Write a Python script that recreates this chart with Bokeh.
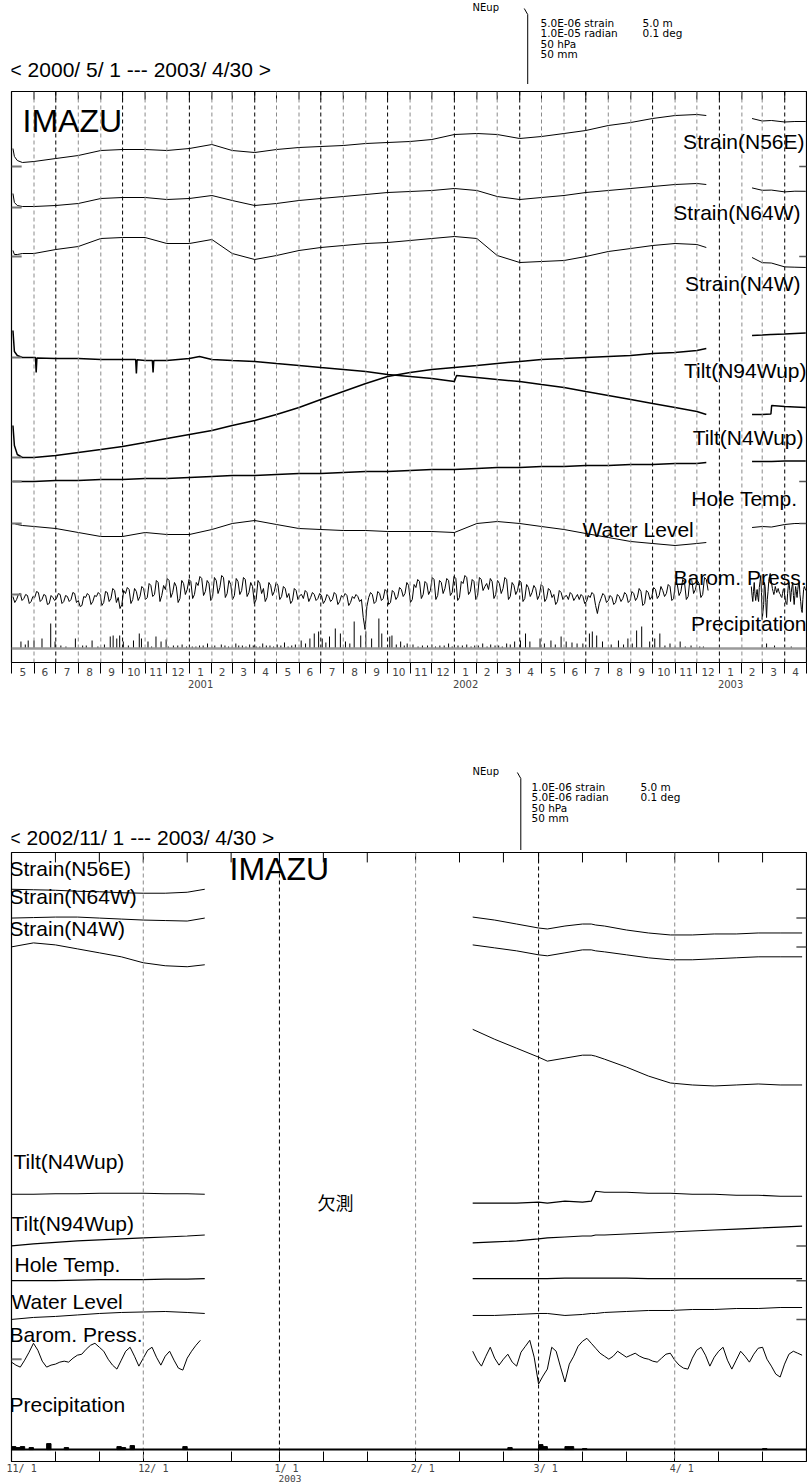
import pandas as pd
from bokeh.plotting import figure
from bokeh.layouts import column
from bokeh.models import Range1d, LinearAxis, FixedTicker, Span, Label
from bokeh.embed import file_html
from bokeh.resources import INLINE

# ============================ DATA ============================
# ---------- upper panel : 2000/5/1 - 2003/4/30 ----------
top_months = [d.strftime("%Y-%m-%d") for d in pd.date_range("2000-06-01", "2002-12-01", freq="MS")]
top_dates_a = ["2000-05-03", "2000-05-05", "2000-05-09", "2000-05-16"] + top_months + ["2002-12-14"]
top_dates_b = ["2003-02-15", "2003-03-01", "2003-03-13", "2003-03-14", "2003-04-01", "2003-04-15", "2003-04-30"]

# strain in 1e-6, tilt in 1e-6 rad, temperature in deg C, water level in m
strain_n56e_a = [1.8, 1.0, 0.6, 0.4, 0.5, 0.8, 1.1, 1.6, 1.7, 1.7, 1.6, 1.8, 2.2, 1.6, 1.4, 1.7, 1.9, 2.0,
                 2.1, 2.3, 2.4, 2.5, 2.7, 3.2, 3.3, 3.2, 2.8, 3.0, 3.3, 3.6, 4.1, 4.4, 4.8, 5.1, 5.2, 5.1]
strain_n56e_b = [4.8, 4.55, 4.6, 4.6, 4.45, 4.5, 4.5]
strain_n64w_a = [1.4, 0.5, 0.2, 0.1, 0.1, 0.2, 0.4, 0.9, 1.0, 1.0, 0.8, 0.9, 1.2, 0.7, 0.2, 0.4, 0.7, 0.9,
                 1.1, 1.3, 1.5, 1.6, 1.7, 1.9, 1.7, 1.1, 0.8, 1.0, 1.2, 1.5, 1.7, 1.9, 2.1, 2.3, 2.4, 2.3]
strain_n64w_b = [1.96, 1.72, 1.74, 1.74, 1.56, 1.63, 1.62]
strain_n4w_a = [0.6, 0.2, 0.2, 0.3, 0.3, 0.7, 1.0, 1.8, 1.9, 1.9, 1.3, 1.3, 1.7, 0.3, -0.3, 0.1, 0.6, 0.9,
                1.1, 1.3, 1.4, 1.6, 1.8, 2.0, 1.8, 0.1, -0.6, -0.5, -0.4, 0.0, 0.5, 0.8, 1.1, 1.3, 1.2, 0.9]
strain_n4w_b = [-0.1, -0.62, -0.65, -0.66, -1.04, -1.07, -1.1]
tilt_n4wup_a = [5.4, 1.2, 0.4, 0.0, 0.0, -0.2, -0.2, -0.4, -0.4, -0.6, -0.6, -0.2, -0.4, -0.6, -0.8, -1.2,
                -1.6, -2.0, -2.4, -2.8, -3.4, -3.8, -4.2, -4.8, -4.0, -4.4, -4.8, -5.4, -6.0, -6.8, -7.6,
                -8.4, -9.2, -10.0, -10.8, -11.4]
tilt_n4wup_extra_dates = ["2000-06-03", "2000-06-04", "2000-06-05", "2000-10-19", "2000-10-20", "2000-10-21",
                          "2000-11-11", "2000-11-12", "2000-11-13", "2001-01-15", "2002-01-04"]
tilt_n4wup_extra = [0.0, -3.0, -0.1, -0.4, -3.2, -0.45, -0.6, -3.0, -0.6, 0.2, -3.6]
tilt_n4wup_b = [-11.4, -11.4, -11.3, -9.6, -9.8, -9.9, -10.0]
tilt_n94wup_a = [6.4, 2.4, 0.6, 0.0, 0.0, 0.4, 1.0, 1.6, 2.2, 3.0, 3.8, 4.6, 5.4, 6.4, 7.4, 8.6, 10.0, 11.6,
                 13.2, 14.8, 16.2, 17.0, 17.6, 18.0, 18.4, 18.8, 19.2, 19.6, 19.8, 20.0, 20.2, 20.4, 20.8,
                 21.0, 21.4, 21.8]
tilt_n94wup_b = [24.4, 24.5, 24.6, 24.6, 24.7, 24.8, 24.9]
hole_temp_a = [0, 0, 0, 0, 0, 0.002, 0.002, 0.004, 0.004, 0.006, 0.006, 0.008, 0.010, 0.012, 0.012, 0.014,
               0.016, 0.016, 0.018, 0.020, 0.020, 0.022, 0.024, 0.024, 0.026, 0.028, 0.028, 0.030, 0.030,
               0.032, 0.032, 0.034, 0.034, 0.036, 0.036, 0.038]
hole_temp_b = [0.040, 0.040, 0.040, 0.040, 0.041, 0.041, 0.041]
water_level_a = [0, 0, -0.1, -0.2, -0.3, -0.5, -0.9, -1.3, -1.3, -0.9, -1.1, -1.1, -0.6, 0.0, 0.3, -0.1, -0.5,
                 -0.6, -0.7, -0.7, -0.8, -0.8, -0.8, -0.9, 0.0, 0.2, 0.0, -0.3, -0.6, -1.0, -1.4, -1.8, -2.0,
                 -2.2, -2.0, -1.9]
water_level_b = [-0.4, -0.3, -0.35, -0.35, -0.1, 0.0, 0.0]

# barometric pressure (hPa): readings every 5 days from 2000/5/3 and the readings 2.5 days later
baro_top_start = "2000-05-03"
baro_top_a = [
    1011, 1008, 1014, 1009, 1012, 1006, 1010, 1015, 1008, 1012, 1004, 1010,
    1009, 1013, 1006, 1011, 1008, 1014, 1007, 1002, 1010, 1012, 1006, 1011,
    1013, 1005, 1015, 1009, 1017, 1010, 1003, 1014, 1018, 1008, 1016, 1011,
    1019, 1010, 1022, 1013, 1025, 1012, 1018, 1027, 1015, 1021, 1009, 1024,
    1018, 1026, 1013, 1022, 1029, 1016, 1024, 1011, 1027, 1020, 1030, 1014,
    1023, 1012, 1026, 1017, 1028, 1015, 1021, 1008, 1024, 1019, 1010, 1022,
    1016, 1022, 1011, 1019, 1014, 1007, 1017, 1012, 1009, 1015, 1010, 1013,
    1009, 1012, 1007, 1011, 1008, 1013, 1006, 1010, 1012, 1005, 1009, 1011,
    1008, 978, 1010, 1013, 1006, 1014, 1009, 1016, 1005, 1015, 1011, 1018,
    1014, 1022, 1008, 1020, 1026, 1013, 1024, 1017, 1028, 1012, 1025, 1019,
    1027, 1015, 1029, 1010, 1024, 1030, 1016, 1026, 1012, 1028, 1021, 1018,
    1026, 1013, 1024, 1019, 1028, 1011, 1022, 1017, 1025, 1009, 1020, 1015,
    1019, 1012, 1021, 1009, 1017, 1013, 1006, 1015, 1011, 1008, 1013, 1010,
    1008, 1011, 1006, 1010, 1013, 994, 1009, 1012, 1007, 1010, 1005, 1011,
    1009, 1013, 1007, 1014, 1010, 1016, 1004, 1015, 1011, 1018, 1012, 1017,
    1014, 1021, 1009, 1023, 1016, 1025, 1011, 1027, 1018, 1024, 1013, 1028]
baro_top_mid = [
    1005, 1013, 1007, 1013, 1004, 1011, 1016, 1006, 1013, 1003, 1012, 1007,
    1014, 1004, 1012, 1006, 1015, 1005, 1001, 1011, 1014, 1003, 1012, 1015,
    1002, 1016, 1006, 1019, 1005, 999, 1017, 1020, 1004, 1019, 1007, 1021,
    1008, 1024, 1011, 1027, 1006, 1022, 1029, 1010, 1025, 1005, 1027, 1013,
    1028, 1009, 1025, 1031, 1012, 1027, 1007, 1030, 1014, 1032, 1010, 1027,
    1008, 1029, 1013, 1030, 1011, 1025, 1004, 1027, 1014, 1006, 1025, 1012,
    1025, 1008, 1021, 1010, 1004, 1019, 1008, 1013, 1017, 1006, 1015, 1007,
    1014, 1004, 1013, 1006, 1015, 1003, 1012, 1014, 1002, 1011, 1013, 1006,
    990, 1001, 1015, 1004, 1016, 1007, 1018, 1003, 1017, 1008, 1020, 1011,
    1025, 1005, 1023, 1028, 1009, 1026, 1013, 1030, 1008, 1027, 1014, 1029,
    1012, 1031, 1007, 1026, 1032, 1013, 1028, 1008, 1030, 1017, 1024, 1029,
    1009, 1027, 1014, 1030, 1008, 1025, 1013, 1027, 1006, 1023, 1011, 1022,
    1008, 1023, 1006, 1019, 1010, 1003, 1017, 1008, 1012, 1015, 1007, 1013,
    1013, 1004, 1012, 1015, 1002, 1004, 1014, 1005, 1012, 1003, 1013, 1006,
    1015, 1005, 1016, 1007, 1019, 1002, 1017, 1008, 1020, 1009, 1021, 1011,
    1023, 1007, 1025, 1012, 1028, 1008, 1029, 1014, 1027, 1010, 1030, 1017]

# precipitation (mm/day)
top_precip_dates = [
    "2000-05-14", "2000-05-20", "2000-05-24", "2000-06-01", "2000-06-12", "2000-06-24", "2000-06-30", "2000-07-08", "2000-07-28", "2000-08-07",
    "2000-08-20", "2000-09-06", "2000-09-14", "2000-09-18", "2000-09-23", "2000-09-27", "2000-10-02", "2000-10-16", "2000-10-24", "2000-10-27",
    "2000-11-05", "2000-11-16", "2000-11-23", "2000-11-30", "2000-12-10", "2000-12-22", "2001-01-05", "2001-01-15", "2001-01-26", "2001-02-05",
    "2001-02-14", "2001-02-24", "2001-03-06", "2001-03-15", "2001-03-25", "2001-04-03", "2001-04-12", "2001-04-22", "2001-05-02", "2001-05-12",
    "2001-05-22", "2001-06-04", "2001-06-16", "2001-06-22", "2001-06-28", "2001-07-03", "2001-07-13", "2001-07-21", "2001-07-28", "2001-08-04",
    "2001-08-16", "2001-08-25", "2001-09-01", "2001-09-09", "2001-09-19", "2001-09-23", "2001-10-04", "2001-10-07", "2001-10-19", "2001-10-28",
    "2001-11-05", "2001-11-18", "2001-12-01", "2001-12-12", "2001-12-24", "2002-01-06", "2002-01-18", "2002-01-29", "2002-02-09", "2002-02-20",
    "2002-03-03", "2002-03-14", "2002-03-25", "2002-04-02", "2002-04-09", "2002-04-15", "2002-04-29", "2002-05-14", "2002-05-28", "2002-06-04",
    "2002-06-19", "2002-07-06", "2002-07-10", "2002-07-16", "2002-07-24", "2002-08-05", "2002-08-15", "2002-08-28", "2002-09-09", "2002-09-16",
    "2002-09-27", "2002-10-04", "2002-10-11", "2002-10-25", "2002-11-08", "2002-11-23", "2002-12-05", "2003-03-01", "2003-03-07", "2003-03-18",
    "2003-04-10"]
top_precip_mm = [
    7, 4, 8, 8, 10, 25, 7, 3, 10, 3,
    8, 4, 12, 13, 10, 13, 7, 8, 15, 10,
    7, 12, 7, 9, 3, 4, 2, 3, 5, 3,
    4, 2, 5, 3, 4, 2, 5, 3, 4, 6,
    3, 8, 10, 15, 17, 10, 12, 20, 15, 7,
    27, 13, 17, 10, 30, 15, 12, 13, 7, 5,
    4, 3, 4, 3, 5, 3, 4, 3, 5, 4,
    3, 5, 7, 8, 15, 7, 10, 8, 12, 7,
    5, 15, 17, 13, 7, 4, 8, 10, 18, 22,
    7, 10, 15, 5, 7, 3, 2, 4, 5, 3,
    2]
top_precip_small_dates = [
    "2000-07-15", "2000-08-12", "2000-08-28", "2000-10-09", "2000-11-10", "2000-12-03", "2000-12-16",
    "2000-12-28", "2001-01-10", "2001-01-20", "2001-02-01", "2001-02-19", "2001-03-01", "2001-03-10",
    "2001-03-20", "2001-03-30", "2001-04-08", "2001-04-17", "2001-04-27", "2001-05-07", "2001-05-17",
    "2001-05-27", "2001-06-10", "2001-07-08", "2001-08-10", "2001-10-13", "2001-10-24", "2001-11-12",
    "2001-11-25", "2001-12-06", "2001-12-18", "2001-12-29", "2002-01-12", "2002-01-24", "2002-02-03",
    "2002-02-15", "2002-02-26", "2002-03-08", "2002-03-19", "2002-05-05", "2002-05-20", "2002-06-12",
    "2002-06-27", "2002-08-22", "2002-09-03", "2002-10-18", "2002-11-01", "2002-11-15", "2002-12-10"]
top_precip_small_mm = [2, 3, 2, 3, 2, 2, 3, 2, 2, 3, 2, 3, 2, 3, 2, 3, 2, 3, 2, 3, 2, 4, 5, 6, 5, 4, 3, 2,
                       3, 2, 3, 2, 3, 2, 3, 2, 3, 2, 4, 5, 4, 6, 5, 4, 5, 3, 2, 2, 2]

top_month_labels = ["5", "6", "7", "8", "9", "10", "11", "12", "1", "2", "3", "4"] * 3
top_year_labels = ["2001", "2002", "2003"]

# ---------- lower panel : 2002/11/1 - 2003/4/30 ----------
bot_dates_1 = ["2002-11-01", "2002-11-06", "2002-11-11", "2002-11-16", "2002-11-21", "2002-11-26",
               "2002-12-01", "2002-12-06", "2002-12-11", "2002-12-15"]
bot_dates_2 = ["2003-02-14", "2003-02-19", "2003-02-24", "2003-03-01", "2003-03-03", "2003-03-07",
               "2003-03-11", "2003-03-13", "2003-03-14", "2003-03-16", "2003-03-21", "2003-03-26",
               "2003-03-31", "2003-04-05", "2003-04-10", "2003-04-15", "2003-04-20", "2003-04-25", "2003-04-30"]
b_n56e_1 = [0.0, -0.01, -0.02, -0.04, -0.05, -0.07, -0.08, -0.08, -0.06, 0.0]
b_n56e_2 = [-0.56, -0.62, -0.70, -0.78, -0.80, -0.74, -0.70, -0.70, -0.72, -0.74, -0.82, -0.88, -0.92,
            -0.92, -0.90, -0.90, -0.88, -0.88, -0.88]
b_n64w_1 = [0.0, 0.01, 0.02, 0.02, 0.0, -0.02, -0.04, -0.05, -0.06, 0.0]
b_n64w_2 = [-0.54, -0.60, -0.66, -0.74, -0.76, -0.70, -0.64, -0.64, -0.66, -0.68, -0.74, -0.80, -0.84,
            -0.84, -0.82, -0.80, -0.78, -0.78, -0.78]
b_n4w_1 = [0.0, 0.08, 0.04, -0.04, -0.12, -0.20, -0.32, -0.38, -0.40, -0.36]
b_n4w_2 = [-1.66, -1.86, -2.04, -2.22, -2.30, -2.24, -2.18, -2.18, -2.20, -2.26, -2.42, -2.60, -2.74,
           -2.78, -2.80, -2.78, -2.76, -2.78, -2.78]
b_n4wup_1 = [0.0, 0.0, 0.05, 0.05, 0.1, 0.1, 0.1, 0.05, 0.05, 0.0]
b_n4wup_2 = [-0.9, -0.9, -0.9, -0.8, -0.9, -0.7, -0.8, -0.7, 0.3, 0.2, 0.2, 0.1, 0.1, 0.0, 0.0, -0.1,
             -0.1, -0.2, -0.2]
b_n94wup_1 = [0.0, 0.2, 0.35, 0.5, 0.6, 0.7, 0.8, 0.9, 1.0, 1.1]
b_n94wup_2 = [0.3, 0.4, 0.5, 0.7, 0.8, 0.9, 1.0, 1.0, 1.1, 1.1, 1.2, 1.3, 1.4, 1.5, 1.6, 1.7, 1.8, 1.9, 2.0]
b_temp_1 = [0, 0, 0, 0.001, 0.002, 0.002, 0.002, 0.003, 0.003, 0.004]
b_temp_2 = [0.004, 0.004, 0.004, 0.004, 0.004, 0.005, 0.005, 0.005, 0.005, 0.005, 0.005, 0.004, 0.004,
            0.004, 0.004, 0.004, 0.004, 0.004, 0.004]
b_water_1 = [0.0, 0.2, 0.3, 0.45, 0.6, 0.7, 0.75, 0.8, 0.7, 0.6]
b_water_2 = [0.4, 0.4, 0.5, 0.6, 0.6, 0.4, 0.5, 0.6, 0.6, 0.7, 0.8, 0.9, 0.9, 1.0, 1.0, 1.1, 1.1, 1.2, 1.2]
# daily barometric pressure (hPa)
b_baro_start_1 = "2002-11-01"
b_baro_1 = [1010, 1007, 1005, 1012, 1020, 1029, 1022, 1011, 1005, 1007,
            1008, 1010, 1011, 1010, 1014, 1017, 1018, 1023, 1027, 1029,
            1025, 1021, 1013, 1007, 1003, 1012, 1021, 1025, 1016, 1006,
            1014, 1022, 1025, 1015, 1007, 1016, 1021, 1012, 1004, 1002,
            1014, 1021, 1027, 1032]
b_baro_start_2 = "2003-02-14"
b_baro_2 = [1021, 1012, 1006, 1016, 1025, 1014, 1007, 1013, 1018, 1010,
            1006, 1020, 1026, 1032, 1015, 988, 996, 1003, 1025, 1021,
            1005, 990, 1008, 1016, 1026, 1031, 1034, 1029, 1024, 1019,
            1016, 1013, 1016, 1021, 1018, 1015, 1017, 1019, 1016, 1014,
            1013, 1011, 1010, 1014, 1018, 1019, 1012, 1007, 1004, 1003,
            1014, 1022, 1025, 1017, 1006, 1015, 1021, 1025, 1012, 1003,
            1012, 1021, 1016, 1010, 1018, 1024, 1025, 1013, 1006, 998,
            995, 1008, 1018, 1021, 1019, 1017]
bot_precip_dates = ["2002-11-01", "2002-11-02", "2002-11-03", "2002-11-05", "2002-11-09", "2002-11-13",
                    "2002-11-25", "2002-11-26", "2002-11-28", "2002-12-10", "2003-02-22", "2003-03-01",
                    "2003-03-02", "2003-03-07", "2003-03-08", "2003-03-11", "2003-04-21"]
bot_precip_mm = [3, 2, 3, 2, 6, 2, 3, 2, 4, 3, 2, 5, 3, 3, 3, 1, 1]
bot_label_dates = ["2002-11-01", "2002-12-01", "2003-01-01", "2003-02-01", "2003-03-01", "2003-04-01"]
bot_date_labels = ["11/ 1", "12/ 1", " 1/ 1", " 2/ 1", " 3/ 1", " 4/ 1"]
bot_year_labels = ["2003"]

# ============================ HELPERS ============================
W = 807
FONT = "Liberation Sans"
SFONT = "DejaVu Sans"
MFONT = "DejaVu Sans Mono"
DAY = 86400000.0


def ms(d):
    return pd.Timestamp(d).value / 1e6


def lab(p, fl, fb, x, y, text, size, font=FONT, align="left", dx=0):
    p.add_layout(Label(x=x - fl + dx, y=fb - y, x_units="screen", y_units="screen", text=text,
                       text_font=font, text_font_size=f"{size}px", text_align=align,
                       text_baseline="middle", text_color="black"))


def make_panel(H, T, B, x0, x1, left, right, refs):
    p = figure(width=W, height=H, output_backend="svg", toolbar_location=None,
               x_range=Range1d(ms(x0), ms(x1)), y_range=Range1d(0, 1),
               x_axis_location=None, y_axis_location=None,
               min_border_left=left, min_border_right=right,
               min_border_top=T, min_border_bottom=H - B)
    p.grid.visible = False
    p.outline_line_color = "black"
    p.outline_line_width = 1.2
    rng = {n: Range1d(start=base + (r - B) / k, end=base + (r - T) / k) for n, (r, k, base) in refs.items()}
    rng["px"] = Range1d(start=B, end=T)
    p.extra_y_ranges = rng
    return p


def make_header(H):
    p = figure(width=W, height=H, output_backend="svg", toolbar_location=None,
               x_range=Range1d(0, W), y_range=Range1d(H, 0),
               x_axis_location=None, y_axis_location=None, min_border=0)
    p.grid.visible = False
    p.outline_line_color = None
    return p


def trace(p, dates, vals, name, lw=1.0):
    p.line([ms(d) for d in dates], vals, y_range_name=name, line_color="black", line_width=lw)


def merged(dates, vals, xd, xv):
    pairs = sorted(zip([ms(d) for d in dates] + [ms(d) for d in xd], list(vals) + list(xv)))
    return [a for a, b in pairs], [b for a, b in pairs]


HDX = -11   # measured horizontal correction for header labels
# ============================ HEADER 1 ============================
HH1 = 84
head1 = make_header(HH1)
lab(head1, 0, HH1, 472, 7, "NEup", 10, SFONT, dx=HDX)
head1.line([520.5, 524, 524], [8, 14, 84], line_color="black", line_width=1)
for i, t in enumerate(["5.0E-06 strain", "1.0E-05 radian", "50 hPa", "50 mm"]):
    lab(head1, 0, HH1, 540, 22 + 10.5 * i, t, 10.5, SFONT, dx=HDX)
lab(head1, 0, HH1, 642, 22, "5.0 m", 10.5, SFONT, dx=HDX)
lab(head1, 0, HH1, 642, 32.5, "0.1 deg", 10.5, SFONT, dx=HDX)
lab(head1, 0, HH1, 9, 69, "< 2000/ 5/ 1 --- 2003/ 4/30 >", 21, dx=HDX)

# ============================ PANEL 1 ============================
H1, T1, B1, L1 = 612, 7, 578, 11
refs1 = {"n56e": (82, 10.0, 0.0), "n64w": (123, 10.0, 0.0), "n4w": (172, 10.0, 0.0),
         "n4wup": (273, 5.0, 0.0), "n94wup": (373, 5.0, 0.0), "temp": (397, 500.0, 0.0),
         "water": (439, 10.0, 0.0), "baro": (510, 1.0, 1013.0), "precip": (564, 1.0, 0.0)}
p1 = make_panel(H1, T1, B1, "2000-05-01", "2003-05-01", L1, 1, refs1)

bounds1 = [ms(d) for d in pd.date_range("2000-05-01", "2003-05-01", freq="MS")]
mids1 = [(a + b) / 2 for a, b in zip(bounds1[:-1], bounds1[1:])]
month_starts1 = list(pd.date_range("2000-05-01", "2003-04-01", freq="MS"))
for d, b in zip(month_starts1[1:], bounds1[1:-1]):
    black = d.month in (1, 4, 7, 10)
    p1.add_layout(Span(location=b, dimension="height", line_color="black" if black else "#8a8a8a",
                       line_dash="4 3", line_width=1))
p1.segment(x0=bounds1, y0=[T1] * len(bounds1), x1=bounds1, y1=[T1 + 8] * len(bounds1),
           y_range_name="px", line_color="black", line_width=1)

ax_m1 = LinearAxis(ticker=FixedTicker(ticks=mids1, minor_ticks=bounds1), major_tick_in=0, major_tick_out=0,
                   minor_tick_in=0, minor_tick_out=11, minor_tick_line_color="black",
                   major_label_overrides={m: s for m, s in zip(mids1, top_month_labels)},
                   major_label_standoff=-6, major_label_text_font=SFONT, major_label_text_font_size="10.5px",
                   axis_line_color=None)
p1.add_layout(ax_m1, "below")
jan_mids = [mids1[i] for i, d in enumerate(month_starts1) if d.month == 1]
ax_y1 = LinearAxis(ticker=FixedTicker(ticks=jan_mids), major_tick_in=0, major_tick_out=0,
                   minor_tick_in=0, minor_tick_out=0,
                   major_label_overrides={m: s for m, s in zip(jan_mids, top_year_labels)},
                   major_label_standoff=1, major_label_text_font=SFONT, major_label_text_font_size="10px",
                   axis_line_color=None)
p1.add_layout(ax_y1, "below")

p1.add_layout(Span(location=0, dimension="width", y_range_name="precip", line_color="#9a9a9a", line_width=2.5))

series1 = [("n56e", strain_n56e_a, strain_n56e_b, 1.0), ("n64w", strain_n64w_a, strain_n64w_b, 1.0),
           ("n4w", strain_n4w_a, strain_n4w_b, 1.0), ("n94wup", tilt_n94wup_a, tilt_n94wup_b, 1.5),
           ("temp", hole_temp_a, hole_temp_b, 1.3), ("water", water_level_a, water_level_b, 1.0)]
for name, a, b, lw in series1:
    trace(p1, top_dates_a, a, name, lw)
    trace(p1, top_dates_b, b, name, lw)
xs, ys = merged(top_dates_a, tilt_n4wup_a, tilt_n4wup_extra_dates, tilt_n4wup_extra)
p1.line(xs, ys, y_range_name="n4wup", line_color="black", line_width=1.5)
trace(p1, top_dates_b, tilt_n4wup_b, "n4wup", 1.5)

bd_a = list(pd.date_range(baro_top_start, periods=len(baro_top_a), freq="5D"))
bd_m = [d + pd.Timedelta(hours=60) for d in bd_a]
xs, ys = merged(bd_a, baro_top_a, bd_m, baro_top_mid)
p1.line(xs, ys, y_range_name="baro", line_color="black", line_width=1)
trace(p1, pd.date_range(b_baro_start_2, periods=len(b_baro_2)), b_baro_2, "baro", 1.0)

pdts = top_precip_dates + top_precip_small_dates
pmm = top_precip_mm + top_precip_small_mm
px = [ms(d) for d in pdts]
p1.segment(x0=px, y0=[0] * len(px), x1=px, y1=pmm, y_range_name="precip", line_color="black", line_width=1)

t0, t1 = ms("2000-05-01"), ms("2003-05-01")
for n in ["n56e", "n64w", "n4w", "n4wup", "n94wup", "temp", "water", "baro"]:
    base = refs1[n][2]
    p1.segment(x0=[t0], y0=[base], x1=[t0 + 14 * DAY], y1=[base], y_range_name=n,
               line_color="#777777", line_width=2)
for n in ["n56e", "n4w", "temp", "water"]:
    base = refs1[n][2]
    p1.segment(x0=[t1 - 10 * DAY], y0=[base], x1=[t1], y1=[base], y_range_name=n,
               line_color="#555555", line_width=1.5)

lab(p1, L1, B1, 22, 36, "IMAZU", 32)
for text, x, y, al in [("Strain(N56E)", 804, 57, "right"), ("Strain(N64W)", 800, 128, "right"),
                       ("Strain(N4W)", 800, 199, "right"), ("Tilt(N94Wup)", 806, 286, "right"),
                       ("Tilt(N4Wup)", 803, 353, "right"), ("Hole Temp.", 797, 414, "right"),
                       ("Water Level", 582, 445, "left"), ("Barom. Press.", 806, 493, "right"),
                       ("Precipitation", 806, 539, "right")]:
    lab(p1, L1, B1, x, y, text, 21, FONT, al)

# ============================ HEADER 2 ============================
HH2 = 154
head2 = make_header(HH2)
lab(head2, 0, HH2, 472, 75, "NEup", 10, SFONT, dx=HDX)
head2.line([513.5, 517, 517], [76, 82, 154], line_color="black", line_width=1)
for i, t in enumerate(["1.0E-06 strain", "5.0E-06 radian", "50 hPa", "50 mm"]):
    lab(head2, 0, HH2, 531, 90 + 10.5 * i, t, 10.5, SFONT, dx=HDX)
lab(head2, 0, HH2, 640, 90, "5.0 m", 10.5, SFONT, dx=HDX)
lab(head2, 0, HH2, 640, 100.5, "0.1 deg", 10.5, SFONT, dx=HDX)
lab(head2, 0, HH2, 8, 141, "< 2002/11/ 1 --- 2003/ 4/30 >", 21, dx=HDX)

# ============================ PANEL 2 ============================
H2, T2, B2, L2 = 634, 2, 615, 6
P2DX = -6
refs2 = {"n56e": (39, 50.0, 0.0), "n64w": (68, 50.0, 0.0), "n4w": (97, 50.0, 0.0),
         "n4wup": (346, 10.0, 0.0), "n94wup": (398, 10.0, 0.0), "temp": (433, 500.0, 0.0),
         "water": (472, 10.0, 0.0), "baro": (512, 1.0, 1013.0), "precip": (603, 1.0, 0.0)}
p2 = make_panel(H2, T2, B2, "2002-11-01", "2003-05-01", L2, 1, refs2)

for d, col in [("2002-12-01", "#8a8a8a"), ("2003-01-01", "black"), ("2003-02-01", "#8a8a8a"),
               ("2003-03-01", "black"), ("2003-04-01", "#8a8a8a")]:
    p2.add_layout(Span(location=ms(d), dimension="height", line_color=col, line_dash="4 3", line_width=1))

tick_dates2 = [ms(pd.Timestamp(y, m, dd)) for (y, m) in [(2002, 11), (2002, 12), (2003, 1), (2003, 2),
                                                          (2003, 3), (2003, 4)] for dd in (1, 11, 21)]
p2.segment(x0=tick_dates2, y0=[T2] * len(tick_dates2), x1=tick_dates2, y1=[T2 + 10] * len(tick_dates2),
           y_range_name="px", line_color="black", line_width=1)
lpos2 = [ms(d) + 2.3 * DAY for d in bot_label_dates]
ax_m2 = LinearAxis(ticker=FixedTicker(ticks=lpos2, minor_ticks=tick_dates2), major_tick_in=0, major_tick_out=0,
                   minor_tick_in=10, minor_tick_out=0, minor_tick_line_color="black",
                   major_label_overrides={m: s for m, s in zip(lpos2, bot_date_labels)},
                   major_label_standoff=1, major_label_text_font=MFONT, major_label_text_font_size="10px",
                   axis_line_color=None)
p2.add_layout(ax_m2, "below")
ypos2 = [ms("2003-01-01") + 2.4 * DAY]
ax_y2 = LinearAxis(ticker=FixedTicker(ticks=ypos2), major_tick_in=0, major_tick_out=0,
                   minor_tick_in=0, minor_tick_out=0,
                   major_label_overrides={m: s for m, s in zip(ypos2, bot_year_labels)},
                   major_label_standoff=-2, major_label_text_font=MFONT, major_label_text_font_size="9.5px",
                   axis_line_color=None)
p2.add_layout(ax_y2, "below")

p2.add_layout(Span(location=0, dimension="width", y_range_name="precip", line_color="black", line_width=2))

series2 = [("n56e", b_n56e_1, b_n56e_2, 1.0), ("n64w", b_n64w_1, b_n64w_2, 1.0), ("n4w", b_n4w_1, b_n4w_2, 1.0),
           ("n4wup", b_n4wup_1, b_n4wup_2, 1.2), ("n94wup", b_n94wup_1, b_n94wup_2, 1.2),
           ("temp", b_temp_1, b_temp_2, 1.2), ("water", b_water_1, b_water_2, 1.0)]
for name, a, b, lw in series2:
    trace(p2, bot_dates_1, a, name, lw)
    trace(p2, bot_dates_2, b, name, lw)
trace(p2, pd.date_range(b_baro_start_1, periods=len(b_baro_1)), b_baro_1, "baro", 1.0)
trace(p2, pd.date_range(b_baro_start_2, periods=len(b_baro_2)), b_baro_2, "baro", 1.0)
p2.vbar(x=[ms(d) + 0.5 * DAY for d in bot_precip_dates], width=DAY, top=bot_precip_mm, bottom=0,
        y_range_name="precip", fill_color="black", line_color="black")

s0, s1 = ms("2002-11-01"), ms("2003-05-01")
p2.segment(x0=[s0], y0=[1013.0], x1=[s0 + 2.3 * DAY], y1=[1013.0], y_range_name="baro",
           line_color="#777777", line_width=2)
for n in ["n56e", "n64w", "n4w", "n94wup", "temp", "water"]:
    base = refs2[n][2]
    p2.segment(x0=[s1 - 2.3 * DAY], y0=[base], x1=[s1], y1=[base], y_range_name=n,
               line_color="#555555", line_width=1.5)

lab(p2, L2, B2, 230, 22, "IMAZU", 32, dx=P2DX)
lab(p2, L2, B2, 318, 355, "欠測", 18, "Noto Sans CJK JP", dx=P2DX)
for text, x, y in [("Strain(N56E)", 10, 22), ("Strain(N64W)", 10, 50), ("Strain(N4W)", 10, 82),
                   ("Tilt(N4Wup)", 14, 315), ("Tilt(N94Wup)", 12, 377), ("Hole Temp.", 15, 418),
                   ("Water Level", 12, 455), ("Barom. Press.", 10, 488), ("Precipitation", 10, 558)]:
    lab(p2, L2, B2, x, y, text, 21, dx=P2DX)

layout = column(head1, p1, head2, p2)
open("out.html", "w").write(file_html(layout, INLINE))
